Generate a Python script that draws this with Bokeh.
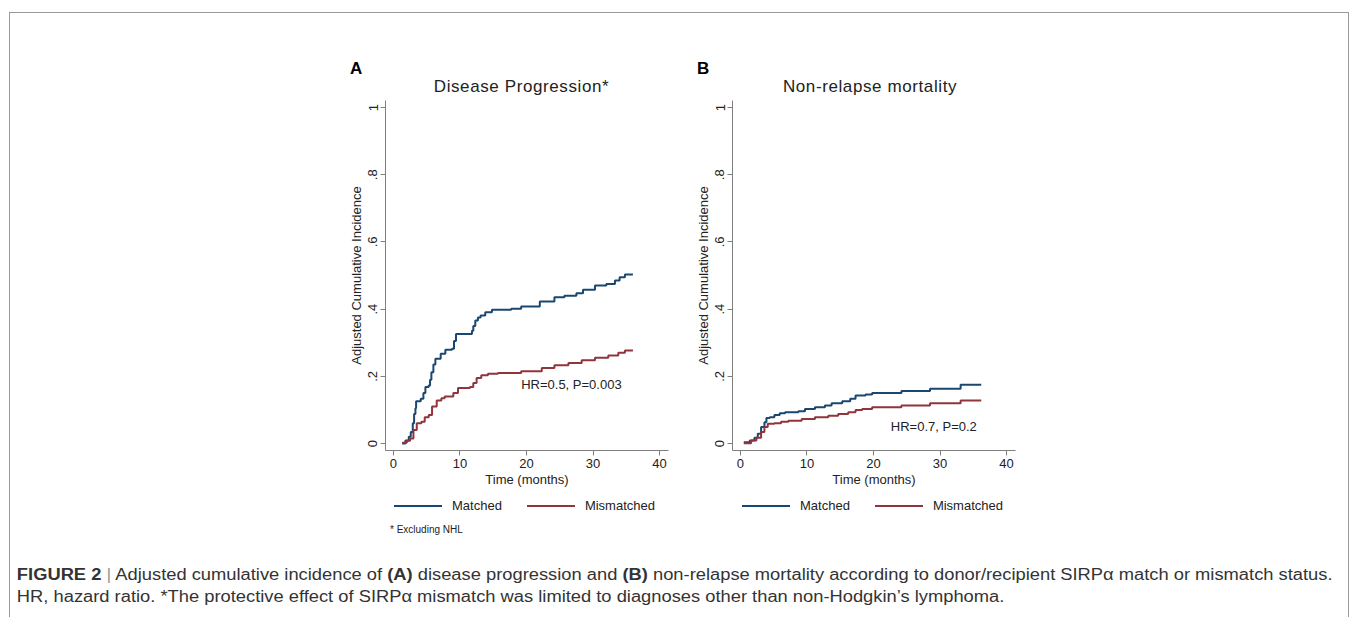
from bokeh.plotting import figure
from bokeh.models import Label, FixedTicker, Div, Range1d, Spacer
from bokeh.layouts import row, column
from bokeh.embed import file_html
from bokeh.resources import INLINE

# ---------------- data ----------------
# Panel A: Disease progression
a_matched_t = [1.3, 1.8, 2.3, 2.6, 2.9, 3.1, 3.3, 3.4, 4.1, 4.5, 4.8, 5.3, 5.5, 5.7, 6.0, 6.3, 7.1, 7.8, 8.8, 9.1, 9.4,
               11.8, 12.0, 12.3, 12.7, 13.1, 13.8, 14.8, 17.7, 19.2, 22.0, 24.2, 25.7, 27.5, 28.5, 30.3, 32.0,
               33.3, 34.0, 34.8, 36.0]
a_matched_v = [0.0, 0.009, 0.02, 0.034, 0.06, 0.088, 0.105, 0.126, 0.133, 0.15, 0.168, 0.173, 0.19, 0.212, 0.235, 0.252,
               0.267, 0.279, 0.282, 0.305, 0.326, 0.336, 0.35, 0.366, 0.375, 0.381, 0.391, 0.398, 0.401, 0.408,
               0.423, 0.435, 0.44, 0.447, 0.458, 0.47, 0.475, 0.485, 0.495, 0.503, 0.503]
a_mismatched_t = [1.3, 2.0, 2.5, 3.0, 3.5, 4.2, 4.7, 5.3, 5.8, 6.5, 7.2, 7.7, 9.0, 9.7, 11.5, 12.0, 12.5, 13.2, 14.2,
                  15.7, 19.2, 22.3, 24.2, 26.3, 28.3, 30.3, 32.3, 33.8, 34.8, 36.0]
a_mismatched_v = [0.002, 0.008, 0.015, 0.04, 0.06, 0.065, 0.078, 0.085, 0.11, 0.128, 0.135, 0.14, 0.15, 0.165, 0.168,
                  0.18, 0.195, 0.203, 0.208, 0.21, 0.215, 0.225, 0.233, 0.24, 0.248, 0.255, 0.262, 0.27, 0.277, 0.277]

# Panel B: Non-relapse mortality
b_matched_t = [0.5, 1.4, 2.1, 2.6, 3.1, 3.6, 3.9, 4.4, 5.1, 5.9, 6.7, 8.7, 9.7, 11.2, 12.7, 13.7, 15.3, 16.5, 17.3,
               18.8, 19.8, 24.2, 28.5, 33.1, 36.2]
b_matched_v = [0.004, 0.009, 0.017, 0.029, 0.049, 0.063, 0.076, 0.078, 0.085, 0.09, 0.093, 0.096, 0.103, 0.108, 0.113,
               0.12, 0.126, 0.133, 0.143, 0.146, 0.15, 0.156, 0.163, 0.175, 0.175]
b_mismatched_t = [0.5, 1.6, 2.4, 3.1, 3.6, 4.1, 5.1, 6.1, 7.2, 9.2, 11.2, 13.2, 14.7, 16.2, 17.3, 18.3, 19.8, 24.2,
                  28.5, 33.1, 36.2]
b_mismatched_v = [0.001, 0.009, 0.017, 0.034, 0.049, 0.059, 0.06, 0.065, 0.068, 0.073, 0.078, 0.083, 0.088, 0.093,
                  0.1, 0.103, 0.108, 0.113, 0.12, 0.128, 0.128]

x_ticks = [0, 10, 20, 30, 40]
y_ticks = [0, 0.2, 0.4, 0.6, 0.8, 1.0]
y_tick_labels = ["0", ".2", ".4", ".6", ".8", "1"]
series_names = ["Matched", "Mismatched"]
series_colors = ["#1a476f", "#90353b"]

FONT = "Liberation Sans"
CSS_FONT = "font-family: 'Liberation Sans', Arial, sans-serif;"
TXT = "#222222"
AX = "#808080"


def header_div(w, letter, letter_x, title, title_x):
    html = (f'<div style="position:relative; width:{w}px; height:87px; {CSS_FONT}">'
            f'<div style="position:absolute; left:{letter_x}px; top:46px; font-size:17px; line-height:20px; '
            f'font-weight:bold; color:#000;">{letter}</div>'
            f'<div style="position:absolute; left:{title_x - 150}px; width:300px; top:64px; text-align:center; '
            f'font-size:17px; line-height:20px; letter-spacing:0.6px; color:{TXT}; white-space:nowrap;">{title}</div>'
            '</div>')
    return Div(text=html, width=w, height=87, margin=0)


def legend_div(w, x0, footnote=None):
    def item(color, name):
        return (f'<span style="display:inline-block; width:48px; height:0; border-top:2px solid {color}; '
                f'vertical-align:middle;"></span>'
                f'<span style="display:inline-block; margin-left:10px; vertical-align:middle;">{name}</span>')
    html = (f'<div style="position:relative; width:{w}px; height:63px; {CSS_FONT} color:{TXT};">'
            f'<div style="position:absolute; left:{x0}px; top:4px; font-size:13px; line-height:18px; '
            f'white-space:nowrap;">'
            f'{item(series_colors[0], series_names[0])}<span style="display:inline-block; width:25px;"></span>'
            f'{item(series_colors[1], series_names[1])}</div>')
    if footnote:
        html += (f'<div style="position:absolute; left:{x0 - 4}px; top:31px; font-size:10px; line-height:13px; '
                 f'white-space:nowrap;">{footnote}</div>')
    html += '</div>'
    return Div(text=html, width=w, height=63, margin=0)


def make_panel(letter, title, t1, v1, t2, v2, hr_text, hr_x, hr_y, bl, br, letter_x, title_x, legend_x,
               footnote=None):
    W = bl + 283 + br
    head = header_div(W, letter, letter_x, title, title_x)

    p = figure(frame_width=283, frame_height=350, output_backend="svg", toolbar_location=None,
               x_range=Range1d(-1.2, 41.35), y_range=Range1d(-0.0208, 1.021),
               min_border_left=bl, min_border_right=br, min_border_top=0, min_border_bottom=42)
    p.outline_line_color = None
    p.grid.visible = False

    for ax in (p.xaxis[0], p.yaxis[0]):
        ax.axis_line_color = AX
        ax.major_tick_line_color = AX
        ax.major_tick_out = 5
        ax.major_tick_in = 0
        ax.minor_tick_line_color = None
        ax.major_label_text_font = FONT
        ax.major_label_text_font_size = "13px"
        ax.major_label_text_color = TXT
        ax.axis_label_text_font = FONT
        ax.axis_label_text_font_size = "13px"
        ax.axis_label_text_font_style = "normal"
        ax.axis_label_text_color = TXT

    p.xaxis.ticker = FixedTicker(ticks=x_ticks)
    p.xaxis.axis_label = "Time (months)"
    p.xaxis.major_label_standoff = 3
    p.xaxis.axis_label_standoff = 1

    p.yaxis.ticker = FixedTicker(ticks=y_ticks)
    p.yaxis.major_label_overrides = {t: l for t, l in zip(y_ticks, y_tick_labels)}
    p.yaxis.major_label_orientation = "vertical"
    p.yaxis.axis_label = "Adjusted Cumulative Incidence"
    p.yaxis.major_label_standoff = 3
    p.yaxis.axis_label_standoff = 2

    p.step(t1, v1, mode="after", line_color=series_colors[0], line_width=2)
    p.step(t2, v2, mode="after", line_color=series_colors[1], line_width=2)
    p.add_layout(Label(x=hr_x, y=hr_y, text=hr_text, text_font=FONT, text_font_size="13px",
                       text_color=TXT, text_baseline="middle"))

    leg = legend_div(W, legend_x, footnote)
    return column(head, p, leg)


pa = make_panel("A", "Disease Progression*", a_matched_t, a_matched_v, a_mismatched_t, a_mismatched_v,
                "HR=0.5, P=0.003", 19.2, 0.176, 375, 15, 340, 511.5, 384, footnote="* Excluding NHL")
pb = make_panel("B", "Non-relapse mortality", b_matched_t, b_matched_v, b_mismatched_t, b_mismatched_v,
                "HR=0.7, P=0.2", 22.6, 0.05, 49, 333, 14, 187, 59)

caption = Div(
    text=('<div style="font-family: \'Liberation Sans\', Arial, sans-serif; font-size: 16px; color: #333; '
          'line-height: 22px; white-space: nowrap; padding-left: 6px; padding-top: 9px; '
          'transform: scaleX(1.145); transform-origin: left top;">'
          '<b>FIGURE 2</b> <span style="color:#999">|</span> Adjusted cumulative incidence of <b>(A)</b> disease '
          'progression and <b>(B)</b> non-relapse mortality according to donor/recipient SIRP&alpha; match or '
          'mismatch status.<br>HR, hazard ratio. *The protective effect of SIRP&alpha; mismatch was limited to '
          'diagnoses other than non-Hodgkin\u2019s lymphoma.</div>'),
    width=1300, height=62, margin=0)

top = row(pa, pb)
body = column(top, caption, styles={"border-top": "1px solid #999999", "border-left": "1px solid #999999",
                                     "border-right": "1px solid #999999"})
layout = column(Spacer(height=12), row(Spacer(width=9), body))

open("out.html", "w").write(file_html(layout, INLINE))
